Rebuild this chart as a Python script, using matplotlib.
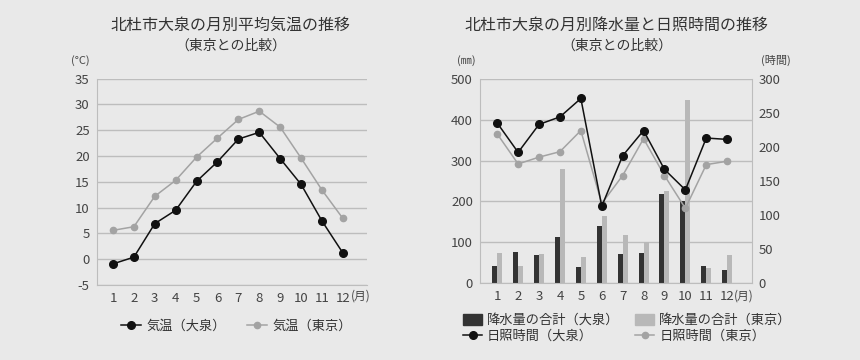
import numpy as np
import matplotlib.pyplot as plt
from matplotlib.patches import Patch
from matplotlib.lines import Line2D

plt.rcParams['font.family'] = ['Noto Sans CJK JP', 'DejaVu Sans']
plt.rcParams['axes.unicode_minus'] = False

months = list(range(1, 13))
month_labels = [str(m) for m in months]

# 平均気温 (℃)
temp_oizumi = [-0.9, 0.4, 6.9, 9.5, 15.1, 18.9, 23.3, 24.6, 19.5, 14.5, 7.4, 1.2]
temp_tokyo = [5.6, 6.3, 12.2, 15.3, 19.8, 23.5, 27.1, 28.7, 25.6, 19.6, 13.4, 7.9]

# 降水量 (mm)
rain_oizumi = [43, 76, 68, 113, 40, 141, 72, 74, 218, 200, 43, 33]
rain_tokyo = [74, 42, 71, 280, 64, 164, 118, 100, 225, 448, 38, 68]

# 日照時間 (時間)
sun_oizumi = [235, 192, 233, 244, 271, 113, 187, 224, 167, 137, 213, 211]
sun_tokyo = [219, 175, 185, 193, 224, 117, 158, 212, 158, 110, 174, 179]

bg = '#e9e9e9'
grid_c = '#bdbdbd'
txt_c = '#444444'
dark = '#111111'
bar_dark = '#333333'
bar_light = '#b8b8b8'
line_light = '#a3a3a3'

fig = plt.figure(figsize=(8.6, 3.6), dpi=100, facecolor=bg)


def style_axes(ax):
    ax.set_facecolor(bg)
    for s in ax.spines.values():
        s.set_visible(False)
    ax.spines['left'].set_visible(True)
    ax.spines['left'].set_color(grid_c)
    ax.spines['bottom'].set_visible(True)
    ax.spines['bottom'].set_color(grid_c)
    ax.tick_params(length=0, labelsize=9.5, colors=txt_c, pad=5)
    ax.grid(axis='y', color=grid_c, linewidth=1)
    ax.set_axisbelow(True)


# ---- 左：気温 ----
ax1 = fig.add_axes([0.1124, 0.2083, 0.3143, 0.5731])
style_axes(ax1)
ax1.plot(months, temp_tokyo, color=line_light, marker='o', markersize=4.5, linewidth=1.1)
ax1.plot(months, temp_oizumi, color=dark, marker='o', markersize=5.5, linewidth=1.1)
ax1.set_xlim(0.22, 13.15)
ax1.set_ylim(-5, 35)
ax1.set_yticks(range(-5, 36, 5))
ax1.set_xticks(months)
ax1.set_xticklabels(month_labels)
ax1.text(12.38, -7.1, '(月)', ha='left', va='center', fontsize=8.5, color=txt_c)
ax1.text(-0.06, 1.06, '(°C)', transform=ax1.transAxes, ha='center', va='bottom',
         fontsize=8, color=txt_c)

fig.text(0.268, 0.93, '北杜市大泉の月別平均気温の推移', ha='center', va='center',
         fontsize=11.5, color='#333333')
fig.text(0.268, 0.872, '（東京との比較）', ha='center', va='center',
         fontsize=10, color='#333333')

h1 = [Line2D([], [], color=dark, marker='o', markersize=5.5, linewidth=1.1),
      Line2D([], [], color=line_light, marker='o', markersize=4.5, linewidth=1.1)]
fig.legend(h1, ['気温（大泉）', '気温（東京）'], loc='center', ncol=2,
           bbox_to_anchor=(0.275, 0.094), frameon=False, fontsize=9.5,
           handlelength=1.5, columnspacing=1.6, handletextpad=0.4,
           labelcolor='#333333')

# ---- 右：降水量・日照時間 ----
ax2 = fig.add_axes([0.558, 0.213, 0.316, 0.5684])
style_axes(ax2)
ax2.spines['right'].set_visible(True)
ax2.spines['right'].set_color(grid_c)
x = np.array(months)
w = 0.24
ax2.bar(x - w / 2, rain_oizumi, width=w, color=bar_dark, zorder=2)
ax2.bar(x + w / 2, rain_tokyo, width=w, color=bar_light, zorder=2)
ax2.set_xlim(0.17, 13.17)
ax2.set_ylim(0, 500)
ax2.set_yticks(range(0, 501, 100))
ax2.set_xticks(months)
ax2.set_xticklabels(month_labels)
ax2.text(12.34, -30, '(月)', ha='left', va='center', fontsize=8.5, color=txt_c)
ax2.text(-0.05, 1.06, '(㎜)', transform=ax2.transAxes, ha='center', va='bottom',
         fontsize=8, color=txt_c)

ax3 = ax2.twinx()
for s in ax3.spines.values():
    s.set_visible(False)
ax3.plot(months, sun_tokyo, color=line_light, marker='o', markersize=4.5, linewidth=1.1, zorder=3)
ax3.plot(months, sun_oizumi, color=dark, marker='o', markersize=5.5, linewidth=1.1, zorder=4)
ax3.set_ylim(0, 300)
ax3.set_yticks(range(0, 301, 50))
ax3.tick_params(length=0, labelsize=9.5, colors=txt_c, pad=5)
ax3.text(1.09, 1.06, '(時間)', transform=ax3.transAxes, ha='center', va='bottom',
         fontsize=8, color=txt_c)

fig.text(0.717, 0.93, '北杜市大泉の月別降水量と日照時間の推移', ha='center', va='center',
         fontsize=11.5, color='#333333')
fig.text(0.717, 0.872, '（東京との比較）', ha='center', va='center',
         fontsize=10, color='#333333')

h2 = [Patch(color=bar_dark),
      Line2D([], [], color=dark, marker='o', markersize=5.5, linewidth=1.1),
      Patch(color=bar_light),
      Line2D([], [], color=line_light, marker='o', markersize=4.5, linewidth=1.1)]
fig.legend(h2, ['降水量の合計（大泉）', '日照時間（大泉）', '降水量の合計（東京）', '日照時間（東京）'],
           loc='center left', ncol=2, bbox_to_anchor=(0.525, 0.088), frameon=False,
           fontsize=9.5, handlelength=1.4, handleheight=0.9, columnspacing=1.2,
           handletextpad=0.4, labelspacing=0.2, labelcolor='#333333')

fig.savefig('out.png', dpi=100, facecolor=bg)
